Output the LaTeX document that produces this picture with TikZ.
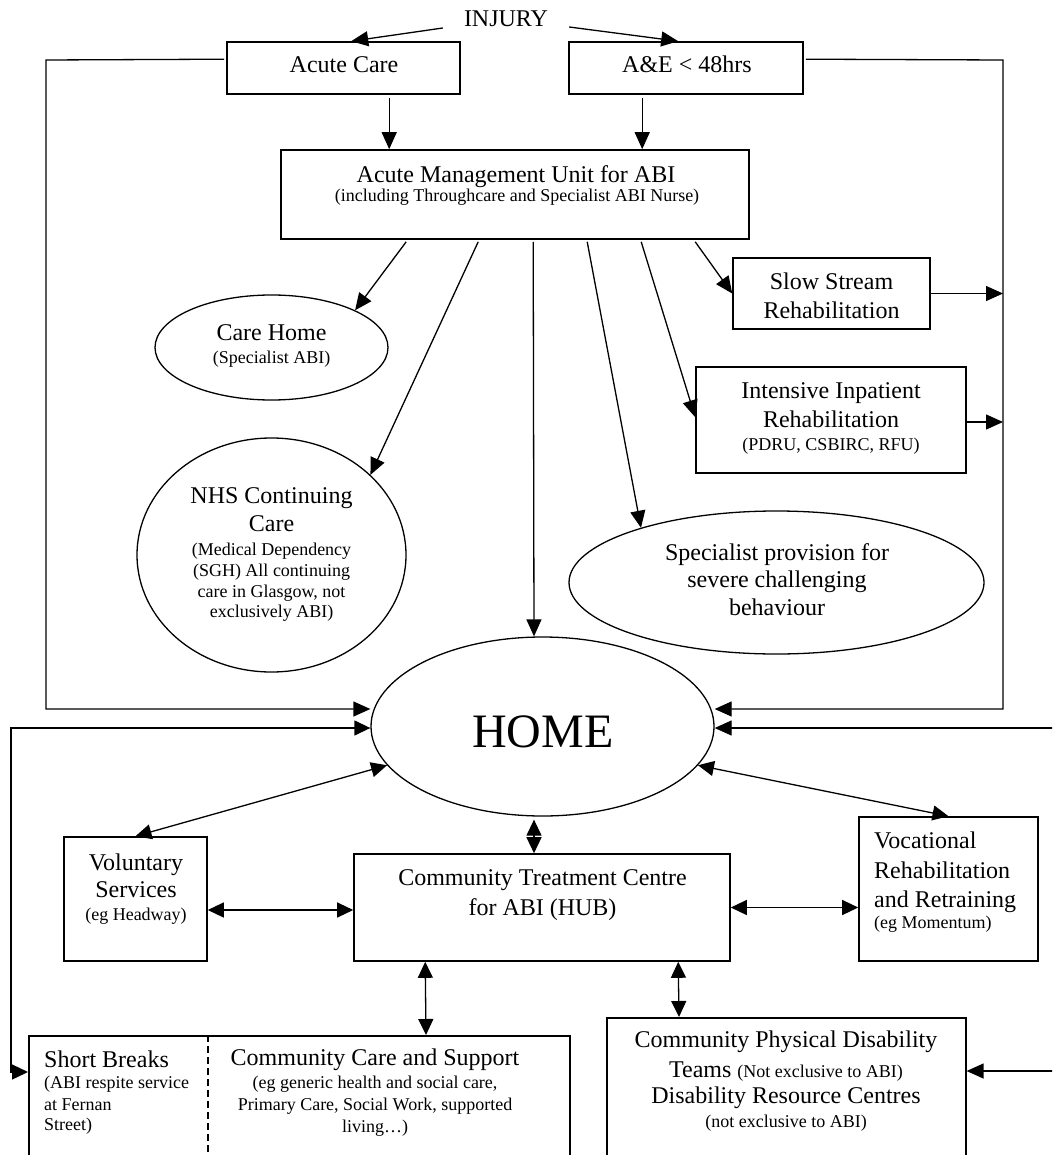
\documentclass[tikz,border=0pt]{standalone}
\usepackage{fontspec}
\setmainfont{Liberation Serif}
\usetikzlibrary{arrows.meta,shapes.geometric,calc}
\begin{document}
\begin{tikzpicture}[x=1pt,y=-1pt,
  box/.style={draw,line width=1.6pt,inner sep=0,rectangle},
  oval/.style={draw,line width=1.3pt,inner sep=0,ellipse},
  ln/.style={line width=1.3pt},
  arr/.style={line width=1.3pt,-{Triangle[length=17pt,width=15pt]}},
  dbl/.style={line width=1.3pt,{Triangle[length=16pt,width=15pt]}-{Triangle[length=16pt,width=15pt]}},
  tb/.style={anchor=base,inner sep=0,font=\fontsize{24pt}{28pt}\selectfont},
  ts/.style={anchor=base,inner sep=0,font=\fontsize{18pt}{21pt}\selectfont},
  tbl/.style={tb,anchor=base west},
  tsl/.style={ts,anchor=base west},
]
\clip (0,0) rectangle (1052,1155);
\fill[white] (0,0) rectangle (1052,1155);

% ---- shapes ----
\node[box,minimum width=233pt,minimum height=52pt] (acute) at (343.5,68) {};
\node[box,minimum width=234pt,minimum height=52pt] (ae) at (686,68) {};
\node[box,minimum width=468pt,minimum height=89pt] (amu) at (515,194.5) {};
\node[oval,minimum width=233pt,minimum height=105pt] (ch) at (271.5,347.5) {};
\node[oval,minimum width=269pt,minimum height=234pt] (nhs) at (271.5,555) {};
\node[box,minimum width=197pt,minimum height=71pt] (slow) at (831.5,293.5) {};
\node[box,minimum width=270pt,minimum height=106pt] (int) at (831,420) {};
\node[oval,minimum width=415pt,minimum height=143pt] (spec) at (776.5,582.5) {};
\node[oval,minimum width=343pt,minimum height=179pt] (home) at (542.5,726.5) {};
\node[box,minimum width=143pt,minimum height=124pt] (vol) at (135.5,899) {};
\node[box,minimum width=376pt,minimum height=107pt] (hub) at (542,907.5) {};
\node[box,minimum width=179pt,minimum height=144pt] (voc) at (948.5,889) {};
\node[box,minimum width=541pt,minimum height=200pt,anchor=north west] (cc) at (28,1035) {};
\node[box,minimum width=359pt,minimum height=200pt,anchor=north west] (cpd) at (606,1017) {};
\draw[ln,dash pattern=on 7pt off 4pt] ($(cc.north west)+(180,0)$) -- ($(cc.south west)+(180,0)$);

% ---- texts ----
\node[tb] (tinj) at (506,27) {INJURY};
\node[tb] (tac) at (344,73) {Acute Care};
\node[tb] (tae) at (687,73) {A\&E < 48hrs};
\node[tb] (tamu1) at (516,183) {Acute Management Unit for ABI};
\node[ts] (tamu2) at (517,202) {(including Throughcare and Specialist ABI Nurse)};
\node[tb] (tch1) at (271.5,340) {Care Home};
\node[ts] (tch2) at (271.5,363) {(Specialist ABI)};
\node[tb] (tnhs1) at (271.5,503) {NHS Continuing};
\node[tb] (tnhs2) at (271.5,531) {Care};
\node[ts] (tnhs3) at (271.5,555) {(Medical Dependency};
\node[ts] (tnhs4) at (271.5,576) {(SGH) All continuing};
\node[ts] (tnhs5) at (271.5,597) {care in Glasgow, not};
\node[ts] (tnhs6) at (271.5,617) {exclusively ABI)};
\node[tb] (tsl1) at (831.5,290) {Slow Stream};
\node[tb] (tsl2) at (831.5,318) {Rehabilitation};
\node[tb] (tin1) at (831,398) {Intensive Inpatient};
\node[tb] (tin2) at (831,427) {Rehabilitation};
\node[ts] (tin3) at (831,450) {(PDRU, CSBIRC, RFU)};
\node[tb] (tsp1) at (777,560) {Specialist provision for};
\node[tb] (tsp2) at (777,587) {severe challenging};
\node[tb] (tsp3) at (777,615) {behaviour};
\node[anchor=base,inner sep=0,font=\fontsize{48pt}{56pt}\selectfont] (thome) at (543,747) {HOME};
\node[tb] (tvo1) at (136,870) {Voluntary};
\node[tb] (tvo2) at (136,897) {Services};
\node[ts] (tvo3) at (136,920) {(eg Headway)};
\node[tb] (thub1) at (542.5,885) {Community Treatment Centre};
\node[tb] (thub2) at (542.5,915) {for ABI (HUB)};
\node[tbl] (tvc1) at (874,848) {Vocational};
\node[tbl] (tvc2) at (874,878) {Rehabilitation};
\node[tbl] (tvc3) at (874,907) {and Retraining};
\node[tsl] (tvc4) at (874,928) {(eg Momentum)};
\node[tbl] (tsb1) at (44,1067) {Short Breaks};
\node[tsl] (tsb2) at (44,1088) {(ABI respite service};
\node[tsl] (tsb3) at (44,1110) {at Fernan};
\node[tsl] (tsb4) at (44,1130) {Street)};
\node[tb] (tcc1) at (375,1065) {Community Care and Support};
\node[ts] (tcc2) at (375,1088) {(eg generic health and social care,};
\node[ts] (tcc3) at (375,1110) {Primary Care, Social Work, supported};
\node[ts] (tcc4) at (375,1132) {living…)};
\node[tb] (tcp1) at (786,1047) {Community Physical Disability};
\node[tb] (tcp2) at (786,1077) {Teams {\fontsize{18pt}{21pt}\selectfont (Not exclusive to ABI)}};
\node[tb] (tcp3) at (786,1103) {Disability Resource Centres};
\node[ts] (tcp4) at (786,1127) {(not exclusive to ABI)};

% ---- connectors ----
\draw[arr] ($(tinj.base west)+(-21,1)$) -- ($(acute.north west)+(125,0)$);
\draw[arr] ($(tinj.base east)+(21,0)$) -- ($(ae.north west)+(110,0)$);
\draw[arr] ($(acute.south west)+(163,3)$) -- ($(amu.north west)+(109,0)$);
\draw[arr] ($(ae.south west)+(74,3)$) -- ($(amu.north west)+(362,0)$);
\draw[arr] ($(amu.south west)+(126,2)$) -- (ch.24);
\draw[arr] ($(amu.south west)+(198,2)$) -- (nhs.39);
\draw[arr] ($(amu.south west)+(253,2)$) -- ($(home.north)+(-8.5,0)$);
\draw[arr] ($(amu.south west)+(307,2)$) -- (spec.158);
\draw[arr] ($(amu.south west)+(361,2)$) -- ($(int.north west)+(0,51)$);
\draw[arr] ($(amu.south west)+(415,2)$) -- (slow.west);

\coordinate (rc1) at (1003,60);
\coordinate (rc2) at (1003,709);
\draw[arr] ($(ae.north east)+(2,18)$) -- (rc1) -- (rc2) -- (home.east |- rc2);
\draw[arr] (slow.east) -- (slow.east -| rc1);
\draw[arr] ($(int.east)+(0,2)$) -- ($(int.east -| rc1)+(0,2)$);

\coordinate (lc1) at (46,60);
\coordinate (lc2) at (46,709);
\draw[arr] ($(acute.north west)+(-2,18)$) -- (lc1) -- (lc2) -- (home.west |- lc2);

\coordinate (lc3) at (11,728);
\coordinate (lc4) at (11,1072);
\draw[dbl] (home.west |- lc3) -- (lc3) -- (lc4) -- (cc.west |- lc4);

\coordinate (rin1) at (1060,728);
\draw[arr] (rin1) -- (home.east |- rin1);
\coordinate (rin2) at (1060,1071);
\draw[arr] (rin2) -- (cpd.east |- rin2);

\draw[dbl] (home.194) -- (vol.north);
\draw[dbl] (home.346) -- (voc.north);
\draw[dbl] ($(home.south)+(-8.5,3)$) -- ($(hub.north)+(-8,0)$);
\draw[dbl] ($(vol.east)+(0,11)$) -- ($(hub.west)+(0,2.5)$);
\draw[dbl] (hub.east) -- (hub.east -| voc.west);
\draw[dbl] ($(hub.south west)+(72,0)$) -- ($(cc.north west)+(398,0)$);
\draw[dbl] ($(hub.south west)+(325,0)$) -- ($(cpd.north west)+(73,0)$);
\end{tikzpicture}
\end{document}
